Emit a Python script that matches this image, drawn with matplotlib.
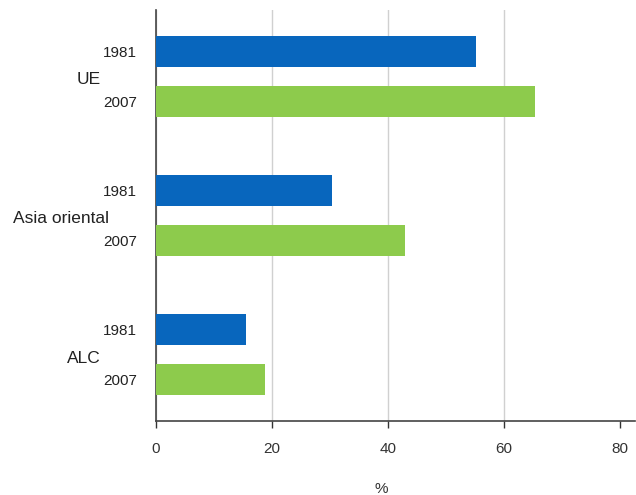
import matplotlib.pyplot as plt
import matplotlib.transforms as mtransforms
import numpy as np

plt.rcParams['font.family'] = ['Liberation Sans', 'DejaVu Sans']

regions = ["UE", "Asia oriental", "ALC"]
years = ["1981", "2007"]
values_1981 = [55.2, 30.3, 15.6]
values_2007 = [65.3, 43.0, 18.8]
x_ticks = [0, 20, 40, 60, 80]

blue = "#0866bd"
green = "#8dcb4c"

fig = plt.figure(figsize=(6.36, 4.95), dpi=100)
axis = fig.add_axes([0.2448, 0.150, 0.7537, 0.830])

group_pos = np.arange(len(regions))
offset = 0.18
bar_h = 0.223

axis.barh(group_pos - offset, values_1981, height=bar_h, color=blue, zorder=3)
axis.barh(group_pos + offset, values_2007, height=bar_h, color=green, zorder=3)

ytick_pos = np.concatenate([[g - offset, g + offset] for g in group_pos])
axis.set_yticks(ytick_pos)
axis.set_yticklabels(years * len(regions), fontsize=11, color="#222222")
axis.tick_params(axis="y", length=0, pad=13.5)

# group labels left of the year labels (right edge in pixels, as in the original)
label_right = [101, 109, 101]
trans = mtransforms.blended_transform_factory(fig.transFigure, axis.transData)
for g, name, xr in zip(group_pos, regions, label_right):
    axis.text(xr / 636, g + 0.025, name, transform=trans, ha="right", va="center",
              fontsize=12.5, color="#222222")

axis.set_xlim(0, 82.6)
axis.set_ylim(2.476, -0.478)
axis.set_xticks(x_ticks)
axis.set_xticklabels([str(t) for t in x_ticks], fontsize=11, color="#333333")
axis.tick_params(axis="x", direction="out", length=5, width=1, color="#333333", pad=10)

axis.xaxis.grid(True, color="#d0d0d0", linewidth=1, zorder=0)
axis.get_xgridlines()[-1].set_visible(False)
axis.yaxis.grid(False)

axis.spines['top'].set_visible(False)
axis.spines['right'].set_visible(False)
axis.spines['left'].set_color("#444444")
axis.spines['bottom'].set_color("#444444")
axis.spines['left'].set_linewidth(1.2)
axis.spines['bottom'].set_linewidth(1.2)

axis.set_xlabel("%", fontsize=11, color="#333333")
axis.xaxis.set_label_coords((381 - 155.7) / (0.7537 * 636), -0.15)

fig.savefig("out.png", dpi=100)
